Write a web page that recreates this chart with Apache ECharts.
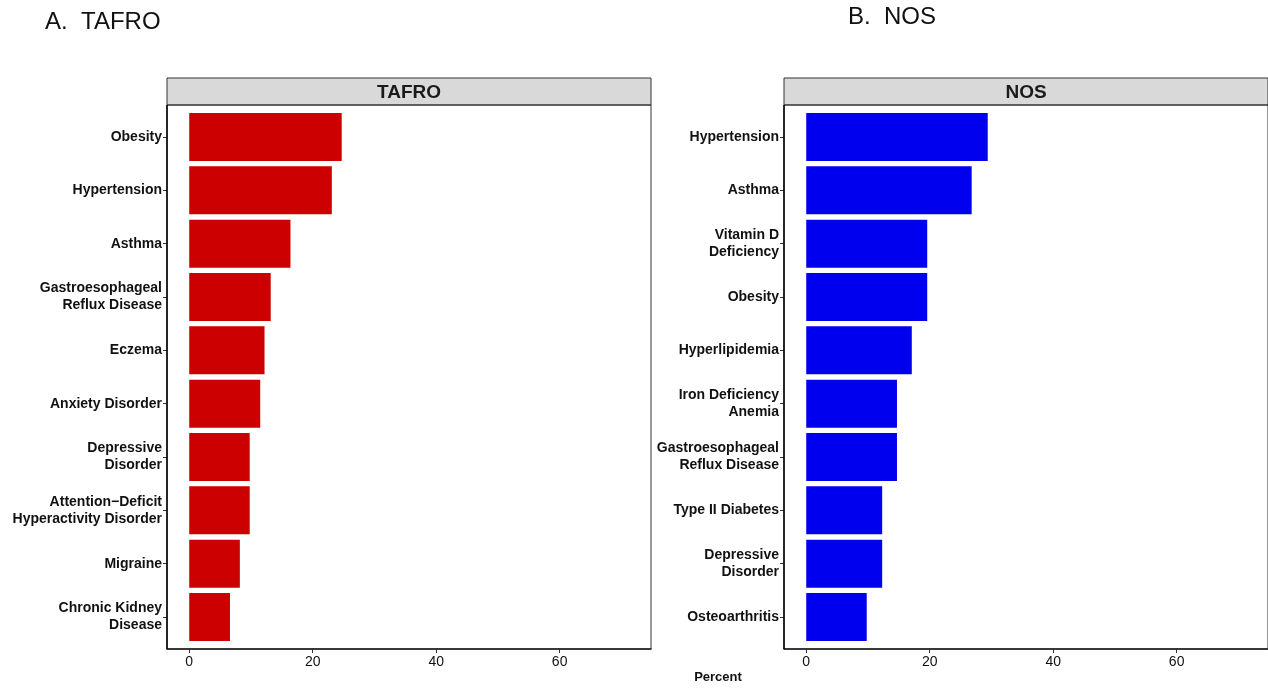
<!DOCTYPE html>
<html>
<head>
<meta charset="utf-8">
<script src="https://cdn.jsdelivr.net/npm/echarts@6/dist/echarts.min.js"></script>
<style>
html,body{margin:0;padding:0;background:#fff;}
#chart{width:1268px;height:688px;}
</style>
</head>
<body>
<div id="chart"></div>
<script>
// ---- data ----
const tafroCategories = ['Obesity', 'Hypertension', 'Asthma', 'Gastroesophageal\nReflux Disease', 'Eczema',
  'Anxiety Disorder', 'Depressive\nDisorder', 'Attention−Deficit\nHyperactivity Disorder', 'Migraine',
  'Chronic Kidney\nDisease'];
const tafroValues = [24.7, 23.1, 16.4, 13.2, 12.2, 11.5, 9.8, 9.8, 8.2, 6.6];

const nosCategories = ['Hypertension', 'Asthma', 'Vitamin D\nDeficiency', 'Obesity', 'Hyperlipidemia',
  'Iron Deficiency\nAnemia', 'Gastroesophageal\nReflux Disease', 'Type II Diabetes', 'Depressive\nDisorder',
  'Osteoarthritis'];
const nosValues = [29.4, 26.8, 19.6, 19.6, 17.1, 14.7, 14.7, 12.3, 12.3, 9.8];

const xTicks = [0, 20, 40, 60];
const panelTitles = ['TAFRO', 'NOS'];
const pageTitles = ['A.  TAFRO', 'B.  NOS'];
const xAxisName = 'Percent';

// ---- layout ----
const panels = [{ left: 167, right: 651 }, { left: 784, right: 1268 }];
const stripTop = 78, panelTop = 105, panelBottom = 649;
const band = (panelBottom - panelTop) / 10.2;
const pad = band * 0.1;
const xMin = -3.6, xMax = 74.8;

const font = '"Liberation Sans", Arial, Helvetica, sans-serif';

const grids = panels.map(p => ({
  left: p.left, width: p.right - p.left,
  top: panelTop + pad, height: (panelBottom - panelTop) - 2 * pad,
  containLabel: false
}));

function xAxisFor(i) {
  return {
    type: 'value', gridIndex: i, min: xMin, max: xMax, offset: pad,
    splitLine: { show: false },
    axisLine: { show: true, onZero: false, lineStyle: { color: '#000', width: 1.5 } },
    axisTick: { show: true, customValues: xTicks, length: 4, lineStyle: { color: '#333' } },
    axisLabel: { customValues: xTicks, color: '#111', fontSize: 14, fontFamily: font, margin: 6 }
  };
}
function yAxisFor(i, cats) {
  return {
    type: 'category', gridIndex: i, data: cats, inverse: true,
    axisLine: { show: false, onZero: false },
    axisTick: { show: true, alignWithLabel: true, length: 4, lineStyle: { color: '#333' } },
    axisLabel: { color: '#111', fontSize: 14, fontWeight: 'bold', fontFamily: font,
      lineHeight: 17, margin: 5, align: 'right' }
  };
}

const graphics = [];
panels.forEach((p, i) => {
  graphics.push({
    type: 'rect', shape: { x: p.left, y: stripTop, width: p.right - p.left, height: panelTop - stripTop },
    style: { fill: '#d9d9d9', stroke: '#333', lineWidth: 1 }, z: 10
  });
  graphics.push({
    type: 'text', x: (p.left + p.right) / 2, y: (stripTop + panelTop) / 2 + 1,
    style: { text: panelTitles[i], font: 'bold 19px ' + font, fill: '#1a1a1a',
      textAlign: 'center', textVerticalAlign: 'middle' }, z: 11
  });
  graphics.push({
    type: 'rect', shape: { x: p.left, y: panelTop, width: p.right - p.left, height: panelBottom - panelTop },
    style: { fill: 'none', stroke: '#333', lineWidth: 1 }, z: 10, silent: true
  });
  graphics.push({
    type: 'line', shape: { x1: p.left, y1: panelTop, x2: p.left, y2: panelBottom },
    style: { stroke: '#000', lineWidth: 1.5 }, z: 11
  });
});
graphics.push({ type: 'text', x: 45, y: 10,
  style: { text: pageTitles[0], font: '24px ' + font, fill: '#111' } });
graphics.push({ type: 'text', x: 848, y: 5,
  style: { text: pageTitles[1], font: '24px ' + font, fill: '#111' } });
graphics.push({ type: 'text', x: 718, y: 677,
  style: { text: xAxisName, font: 'bold 13px ' + font, fill: '#111', textAlign: 'center', textVerticalAlign: 'middle' } });

const chart = echarts.init(document.getElementById('chart'), null, { renderer: 'canvas' });
chart.setOption({
  backgroundColor: '#fff',
  animation: false,
  grid: grids,
  xAxis: [xAxisFor(0), xAxisFor(1)],
  yAxis: [yAxisFor(0, tafroCategories), yAxisFor(1, nosCategories)],
  series: [
    { type: 'bar', xAxisIndex: 0, yAxisIndex: 0, data: tafroValues, barCategoryGap: '10%',
      itemStyle: { color: '#cc0000' } },
    { type: 'bar', xAxisIndex: 1, yAxisIndex: 1, data: nosValues, barCategoryGap: '10%',
      itemStyle: { color: '#0000ee' } }
  ],
  graphic: graphics
});
</script>
</body>
</html>
